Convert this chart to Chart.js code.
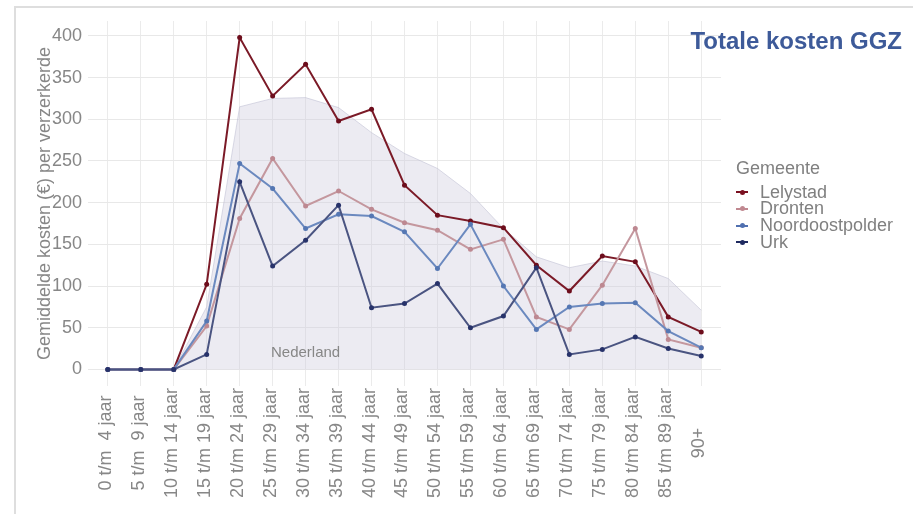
<!DOCTYPE html>
<html>
<head>
<meta charset="utf-8">
<script src="https://cdn.jsdelivr.net/npm/chart.js@4"></script>
<style>
  html, body { margin: 0; padding: 0; background: #fff; }
  #wrap { position: relative; width: 913px; height: 514px; overflow: hidden;
          font-family: "Liberation Sans", Arial, sans-serif; }
  #frame { position: absolute; left: 14px; top: 6px; width: 1000px; height: 700px;
           border-left: 2px solid #dedede; border-top: 2px solid #dedede; }
  #chart { position: absolute; left: 0; top: 0; }
  #title { position: absolute; right: 11px; top: 27px; font-weight: bold; font-size: 24px;
           line-height: 28px; color: #3d5a99; white-space: nowrap; }
  #legendTitle { position: absolute; left: 736px; top: 158px; font-size: 18px; line-height: 20px; color: #808080; }
  #legend { position: absolute; left: 736px; top: 183.6px; font-size: 18px; color: #808080; }
  .row { position: relative; height: 16.7px; line-height: 16.7px; padding-left: 24px; white-space: nowrap; }
  .key { position: absolute; left: 0; top: 0; width: 12px; height: 16.7px; }
  .key .ln { position: absolute; left: 0; top: 7.6px; width: 12px; height: 2px; }
  .key .pt { position: absolute; left: 3.5px; top: 6px; width: 5px; height: 5px; border-radius: 50%; }
</style>
</head>
<body>
<div id="wrap">
  <div id="frame"></div>
  <canvas id="chart" width="913" height="514"></canvas>
  <div id="title">Totale kosten GGZ</div>
  <div id="legendTitle">Gemeente</div>
  <div id="legend"></div>
</div>
<script>
// Age groups on the x axis
const ageGroups = [
  "0 t/m  4 jaar", "5 t/m  9 jaar", "10 t/m 14 jaar", "15 t/m 19 jaar", "20 t/m 24 jaar",
  "25 t/m 29 jaar", "30 t/m 34 jaar", "35 t/m 39 jaar", "40 t/m 44 jaar", "45 t/m 49 jaar",
  "50 t/m 54 jaar", "55 t/m 59 jaar", "60 t/m 64 jaar", "65 t/m 69 jaar", "70 t/m 74 jaar",
  "75 t/m 79 jaar", "80 t/m 84 jaar", "85 t/m 89 jaar", "90+"
];

// Average GGZ costs (EUR) per insured person
const lelystad        = [0, 0, 0, 102, 398, 328, 366, 298, 312, 221, 185, 178, 170, 125, 94, 136, 129, 63, 45];
const dronten         = [0, 0, 0, 52, 181, 253, 196, 214, 192, 176, 167, 144, 156, 63, 48, 101, 169, 36, 26];
const noordoostpolder = [0, 0, 0, 58, 247, 217, 169, 186, 184, 165, 121, 174, 100, 48, 75, 79, 80, 46, 26];
const urk             = [0, 0, 0, 18, 225, 124, 155, 197, 74, 79, 103, 50, 64, 122, 18, 24, 39, 25, 16];
const nederland       = [0, 0, 0, 75, 315, 325, 326, 314, 284, 259, 241, 211, 169, 135, 122, 130, 124, 109, 71];

const municipalities = ["Lelystad", "Dronten", "Noordoostpolder", "Urk"];
const municipalityData = [lelystad, dronten, noordoostpolder, urk];
const lineColors  = ["#7b1a27", "#c4979e", "#6b89bf", "#4a5481"];
const pointColors = ["#6d0d1c", "#bd8891", "#5577b3", "#27326a"];
const keyColors   = ["#7a1020", "#c08890", "#5070b0", "#1e2a60"];

const yMajorTicks = [0, 50, 100, 150, 200, 250, 300, 350, 400];
const yMinorTicks = [25, 75, 125, 175, 225, 275, 325, 375];
const yTitle = "Gemiddelde kosten (€) per verzerkerde";
const referenceLabel = "Nederland";

const FONT = '"Liberation Sans", Arial, sans-serif';
const GREY = "#878787";

// y range padded 5% beyond the data on both ends; x padded 0.6 group
const peak = Math.max(...municipalityData.flat(), ...nederland);
const yMin = -0.05 * peak;
const yMax = 1.05 * peak;
const xMin = -0.6;
const xMax = ageGroups.length - 1 + 0.6;

const toPoints = arr => arr.map((v, i) => ({ x: i, y: v }));

const datasets = [{
  label: referenceLabel,
  data: toPoints(nederland),
  fill: "origin",
  backgroundColor: "rgba(204,202,222,0.38)",
  borderColor: "rgba(190,190,210,0.55)",
  borderWidth: 1,
  pointRadius: 0,
  order: 10
}];
municipalities.forEach((name, i) => {
  datasets.push({
    label: name,
    data: toPoints(municipalityData[i]),
    fill: false,
    borderColor: lineColors[i],
    borderWidth: 2,
    pointRadius: 2.5,
    pointBorderWidth: 0,
    pointBackgroundColor: pointColors[i],
    order: 4 - i
  });
});

// Rotated age labels and the "Nederland" area label
const labelPlugin = {
  id: "ageLabels",
  afterDraw(chart) {
    const { ctx, scales: { x, y } } = chart;
    ctx.save();
    ctx.fillStyle = GREY;
    ctx.font = "18px " + FONT;
    ctx.textAlign = "center";
    ctx.textBaseline = "middle";
    ageGroups.forEach((lab, i) => {
      ctx.save();
      ctx.translate(x.getPixelForValue(i) - 2, 443);
      ctx.rotate(-Math.PI / 2);
      ctx.fillText(lab, 0, 0);
      ctx.restore();
    });
    ctx.font = "15px " + FONT;
    ctx.fillText(referenceLabel, x.getPixelForValue(6), y.getPixelForValue(20));
    ctx.restore();
  }
};

new Chart(document.getElementById("chart"), {
  type: "line",
  data: { datasets },
  plugins: [labelPlugin],
  options: {
    responsive: false,
    animation: false,
    devicePixelRatio: 1,
    layout: { padding: { top: 21, right: 192, bottom: 0, left: 0 } },
    elements: { line: { tension: 0 } },
    plugins: { legend: { display: false }, tooltip: { enabled: false } },
    scales: {
      x: {
        type: "linear",
        min: xMin, max: xMax,
        afterBuildTicks(scale) {
          scale.ticks = ageGroups.map((_, i) => ({ value: i }));
        },
        grid: { color: "#ebebeb", lineWidth: 1, drawTicks: false },
        border: { display: false },
        ticks: { display: false },
        afterFit(scale) { scale.height = 128; }
      },
      y: {
        min: yMin, max: yMax,
        afterBuildTicks(scale) {
          scale.ticks = [...yMajorTicks, ...yMinorTicks].sort((a, b) => a - b).map(v => ({ value: v }));
        },
        grid: {
          drawTicks: false,
          lineWidth: 1,
          color: c => (yMajorTicks.includes(c.tick && c.tick.value) ? "#e8e8e8" : "#f3f3f3")
        },
        border: { display: false },
        ticks: {
          padding: 6,
          color: GREY,
          font: { size: 18, family: FONT },
          callback: v => (yMajorTicks.includes(v) ? String(v) : "")
        },
        title: {
          display: true, text: yTitle, color: GREY,
          font: { size: 18, family: FONT },
          padding: { top: 34, bottom: 0 }
        },
        afterFit(scale) { scale.width = 88; }
      }
    }
  }
});

// Legend
const legend = document.getElementById("legend");
municipalities.forEach((name, i) => {
  const row = document.createElement("div");
  row.className = "row";
  row.innerHTML = '<span class="key"><span class="ln" style="background:' + keyColors[i] +
    '"></span><span class="pt" style="background:' + keyColors[i] + '"></span></span>' + name;
  legend.appendChild(row);
});
</script>
</body>
</html>
